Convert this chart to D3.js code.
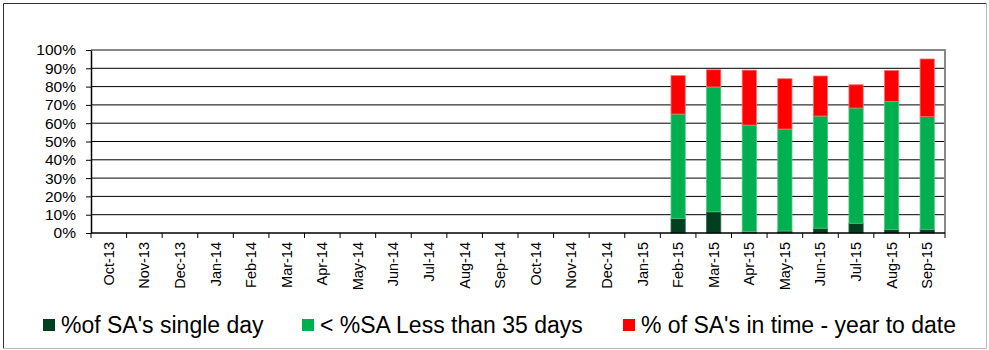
<!DOCTYPE html>
<html>
<head>
<meta charset="utf-8">
<script src="https://cdn.jsdelivr.net/npm/d3@7"></script>
<style>
  html, body { margin: 0; padding: 0; background: #fff; }
  svg { display: block; font-family: "Liberation Sans", Arial, sans-serif; }
</style>
</head>
<body>
<svg id="chart" width="989" height="350"></svg>
<script>
// Monthly categories along the x axis
const months = ["Oct-13","Nov-13","Dec-13","Jan-14","Feb-14","Mar-14","Apr-14","May-14",
  "Jun-14","Jul-14","Aug-14","Sep-14","Oct-14","Nov-14","Dec-14","Jan-15",
  "Feb-15","Mar-15","Apr-15","May-15","Jun-15","Jul-15","Aug-15","Sep-15"];

// Stacked segment values (percent); months without data are null
const singleDay = [null,null,null,null,null,null,null,null,null,null,null,null,null,null,null,null,
  8, 11.6, 0.7, 1.1, 2.6, 5.3, 2, 2];
const lessThan35 = [null,null,null,null,null,null,null,null,null,null,null,null,null,null,null,null,
  57, 68.2, 58.3, 55.7, 61.3, 63, 69.8, 61.6];
const inTimeYTD = [null,null,null,null,null,null,null,null,null,null,null,null,null,null,null,null,
  21, 9.4, 30, 27.5, 21.9, 12.7, 17, 31.5];

const yTicks = [0,10,20,30,40,50,60,70,80,90,100];

const seriesNames = ["%of SA's single day", "< %SA Less than 35 days", "% of SA's in time - year to date"];
const seriesColors = ["#003f1f", "#00b050", "#ff0000"];
const seriesStroke = ["#2f6a48", "#4cc97f", "#ff6f6f"];

const FONT = "'Liberation Sans', Arial, sans-serif";
const svg = d3.select("#chart");

// outer frame
svg.append("line").attr("x1",3.5).attr("y1",3.5).attr("x2",3.5).attr("y2",348.5).attr("stroke","#333");
svg.append("line").attr("x1",3.5).attr("y1",3.5).attr("x2",986.5).attr("y2",3.5).attr("stroke","#333");
svg.append("line").attr("x1",986.5).attr("y1",3.5).attr("x2",986.5).attr("y2",348.5).attr("stroke","#bbb");
svg.append("line").attr("x1",3.5).attr("y1",348.5).attr("x2",986.5).attr("y2",348.5).attr("stroke","#bbb");

const plotLeft = 91, plotRight = 945, plotTop = 50, plotBottom = 233;

const x = d3.scaleBand().domain(months).range([plotLeft, plotRight]).paddingInner(0.6).paddingOuter(0.3);
const xBand = d3.scaleBand().domain(months).range([plotLeft, plotRight]);
const y = d3.scaleLinear().domain([0, 100]).range([plotBottom, plotTop]);

// horizontal gridlines
svg.append("g").selectAll("line").data(yTicks.filter(d => d > 0)).join("line")
  .attr("x1", plotLeft).attr("x2", plotRight)
  .attr("y1", d => y(d)).attr("y2", d => y(d))
  .attr("stroke", d => d === 100 ? "#888" : "#000").attr("stroke-width", d => d === 100 ? 2 : 1);

// right border of plot area
svg.append("line").attr("x1", plotRight).attr("x2", plotRight).attr("y1", plotTop - 1).attr("y2", plotBottom)
  .attr("stroke", "#888").attr("stroke-width", 2);

// stacked bars
const rows = months.map((m, i) => ({ month: m, s0: singleDay[i], s1: lessThan35[i], s2: inTimeYTD[i] }));
const stack = d3.stack().keys(["s0","s1","s2"]).value((d, k) => d[k] == null ? 0 : d[k]);
const layers = stack(rows.filter(r => r.s0 != null));

svg.append("g").selectAll("g").data(layers).join("g")
  .attr("fill", (d, i) => seriesColors[i])
  .attr("stroke", (d, i) => seriesStroke[i])
  .attr("stroke-width", 0.8)
  .selectAll("rect").data(d => d).join("rect")
  .attr("x", d => x(d.data.month))
  .attr("width", x.bandwidth())
  .attr("y", d => y(d[1]))
  .attr("height", d => y(d[0]) - y(d[1]));

// y axis
const yAxis = d3.axisLeft(y).tickValues(yTicks).tickFormat(d => d + "%").tickSize(5).tickSizeOuter(0);
const gy = svg.append("g").attr("transform", `translate(${plotLeft},0)`).call(yAxis);
gy.attr("font-family", FONT);
gy.select(".domain").attr("stroke", "#000").attr("stroke-width", 1.5);
gy.selectAll(".tick line").attr("stroke", "#000");
gy.selectAll(".tick text").attr("font-size", 15.5).attr("fill", "#000").attr("x", -15);

// x axis: tick marks between categories
const gx = svg.append("g").attr("transform", `translate(0,${plotBottom})`).attr("font-family", FONT);
gx.append("line").attr("x1", plotLeft).attr("x2", plotRight).attr("stroke", "#000").attr("stroke-width", 1.5);
const bounds = months.map(m => xBand(m)).concat([plotRight]);
gx.selectAll("line.tk").data(bounds).join("line").attr("class","tk")
  .attr("x1", d => d).attr("x2", d => d).attr("y1", 0).attr("y2", 5).attr("stroke", "#000");
gx.selectAll("text").data(months).join("text")
  .attr("transform", m => `translate(${xBand(m) + xBand.bandwidth() / 2 + 5},${9}) rotate(-90)`)
  .attr("text-anchor", "end")
  .attr("font-size", 14.5)
  .attr("fill", "#000")
  .text(m => m);

// legend
const legendX = [43, 302, 623];
const lg = svg.append("g").attr("font-family", FONT);
seriesNames.forEach((name, i) => {
  lg.append("rect").attr("x", legendX[i]).attr("y", 319).attr("width", 12).attr("height", 12)
    .attr("fill", seriesColors[i]);
  lg.append("text").attr("x", legendX[i] + 18).attr("y", 333).attr("font-size", 23)
    .attr("fill", "#000").text(name);
});
</script>
</body>
</html>
